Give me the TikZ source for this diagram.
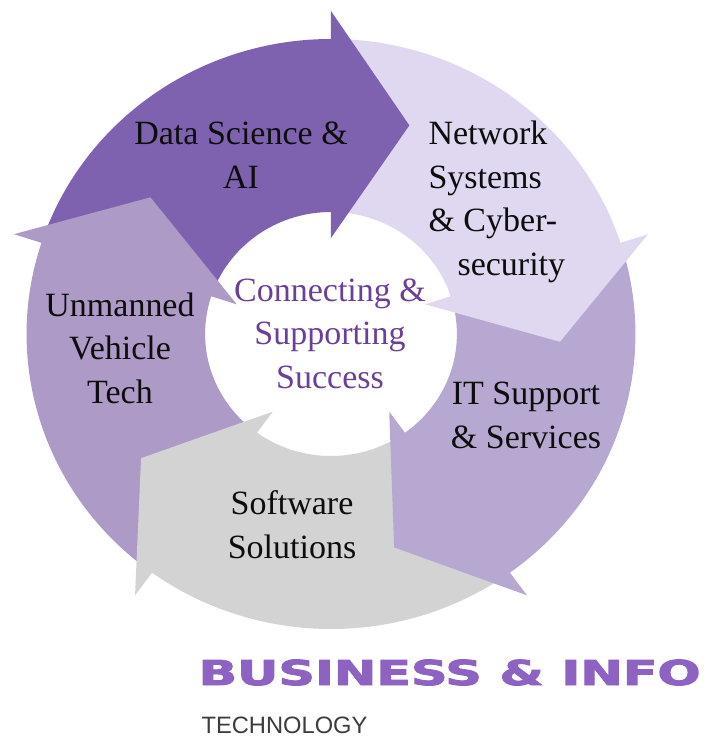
\documentclass[tikz,border=0pt]{standalone}
\usepackage{fontspec}
\setmainfont{Liberation Serif}
\newfontfamily\brandfont{DejaVu Sans}[UprightFont=* Bold, FakeBold=2.5]
\newfontfamily\techfont{Liberation Sans}
\usetikzlibrary{positioning}

\definecolor{dsaifill}{HTML}{7F62AF}
\definecolor{netfill}{HTML}{E0D8F0}
\definecolor{itfill}{HTML}{B7A8D1}
\definecolor{softfill}{HTML}{D3D3D3}
\definecolor{uvtfill}{HTML}{AE9AC6}
\definecolor{hubtext}{HTML}{6A3F99}
\definecolor{brandtext}{HTML}{8E62C2}
\definecolor{techtext}{HTML}{3C3C3C}

\begin{document}
\begin{tikzpicture}[
			x=1pt, y=1pt,
			font=\fontsize{34}{43.5}\selectfont,
			seg/.style={align=center, anchor=base, text=black!95},
			hub/.style={align=center, anchor=base, text=hubtext},
			brand/.style={anchor=base west, text=brandtext, font=\brandfont\fontsize{34.3}{40}\selectfont},
			tech/.style={anchor=base west, text=techtext, font=\techfont\fontsize{23.7}{28}\selectfont}
			]
			
			\useasboundingbox (-331,-403) rectangle (376,334);
			
			% -------------------------------
			% ANILLO: CUERPOS
			% -------------------------------
			\begin{scope}[xscale=1.032]
				\fill[dsaifill] (160:295) arc[start angle=160, end angle=89, radius=295]
				-- (89:122) arc[start angle=89, end angle=160, radius=122] -- cycle;
				\fill[netfill] (88:295) arc[start angle=88, end angle=17, radius=295]
				-- (17:122) arc[start angle=17, end angle=88, radius=122] -- cycle;
				\fill[itfill] (16:295) arc[start angle=16, end angle=-55, radius=295]
				-- (-55:122) arc[start angle=-55, end angle=16, radius=122] -- cycle;
				\fill[softfill] (-56:295) arc[start angle=-56, end angle=-127, radius=295]
				-- (-127:122) arc[start angle=-127, end angle=-56, radius=122] -- cycle;
				\fill[uvtfill] (-128:295) arc[start angle=-128, end angle=-199, radius=295]
				-- (161:122) arc[start angle=161, end angle=232, radius=122] -- cycle;
				
				% -------------------------------
				% ANILLO: PUNTAS
				% -------------------------------
				\fill[dsaifill] (90:323) -- (70:222) -- (90:96) -- cycle;
				\fill[netfill] (18:323) -- (-2:222) -- (18:96) -- cycle;
				\fill[itfill] (-54:323) -- (-74:222) -- (-54:96) -- cycle;
				\fill[softfill] (-126:323) -- (-146:222) -- (-126:96) -- cycle;
				\fill[uvtfill] (162:323) -- (142:222) -- (162:96) -- cycle;
			\end{scope}
			
			% -------------------------------
			% ETIQUETAS
			% -------------------------------
			\node[seg] (dsai) at (-90,146) {Data Science \&\\AI};
			\node[seg, align=left, anchor=base west] (netsec) at (94,59) {Network\\Systems\\\& Cyber-\\\hspace*{29pt}security};
			\node[seg] (itsup) at (195,-114) {IT Support\\\& Services};
			\node[seg] (soft) at (-39,-224) {Software\\Solutions};
			\node[seg] (uvt) at (-211,-69) {Unmanned\\Vehicle\\Tech};
			
			\node[hub] (hub) at (-1,-54) {Connecting \&\\Supporting\\Success};
			
			% -------------------------------
			% MARCA
			% -------------------------------
			\node[brand] (biz) at (-136,-351) {\scalebox{1.48}[1]{BUSINESS \& INFO}};
			\node[tech] (techno) at ([xshift=3pt, yshift=-48pt]biz.base west) {TECHNOLOGY};
			
		\end{tikzpicture}
\end{document}
